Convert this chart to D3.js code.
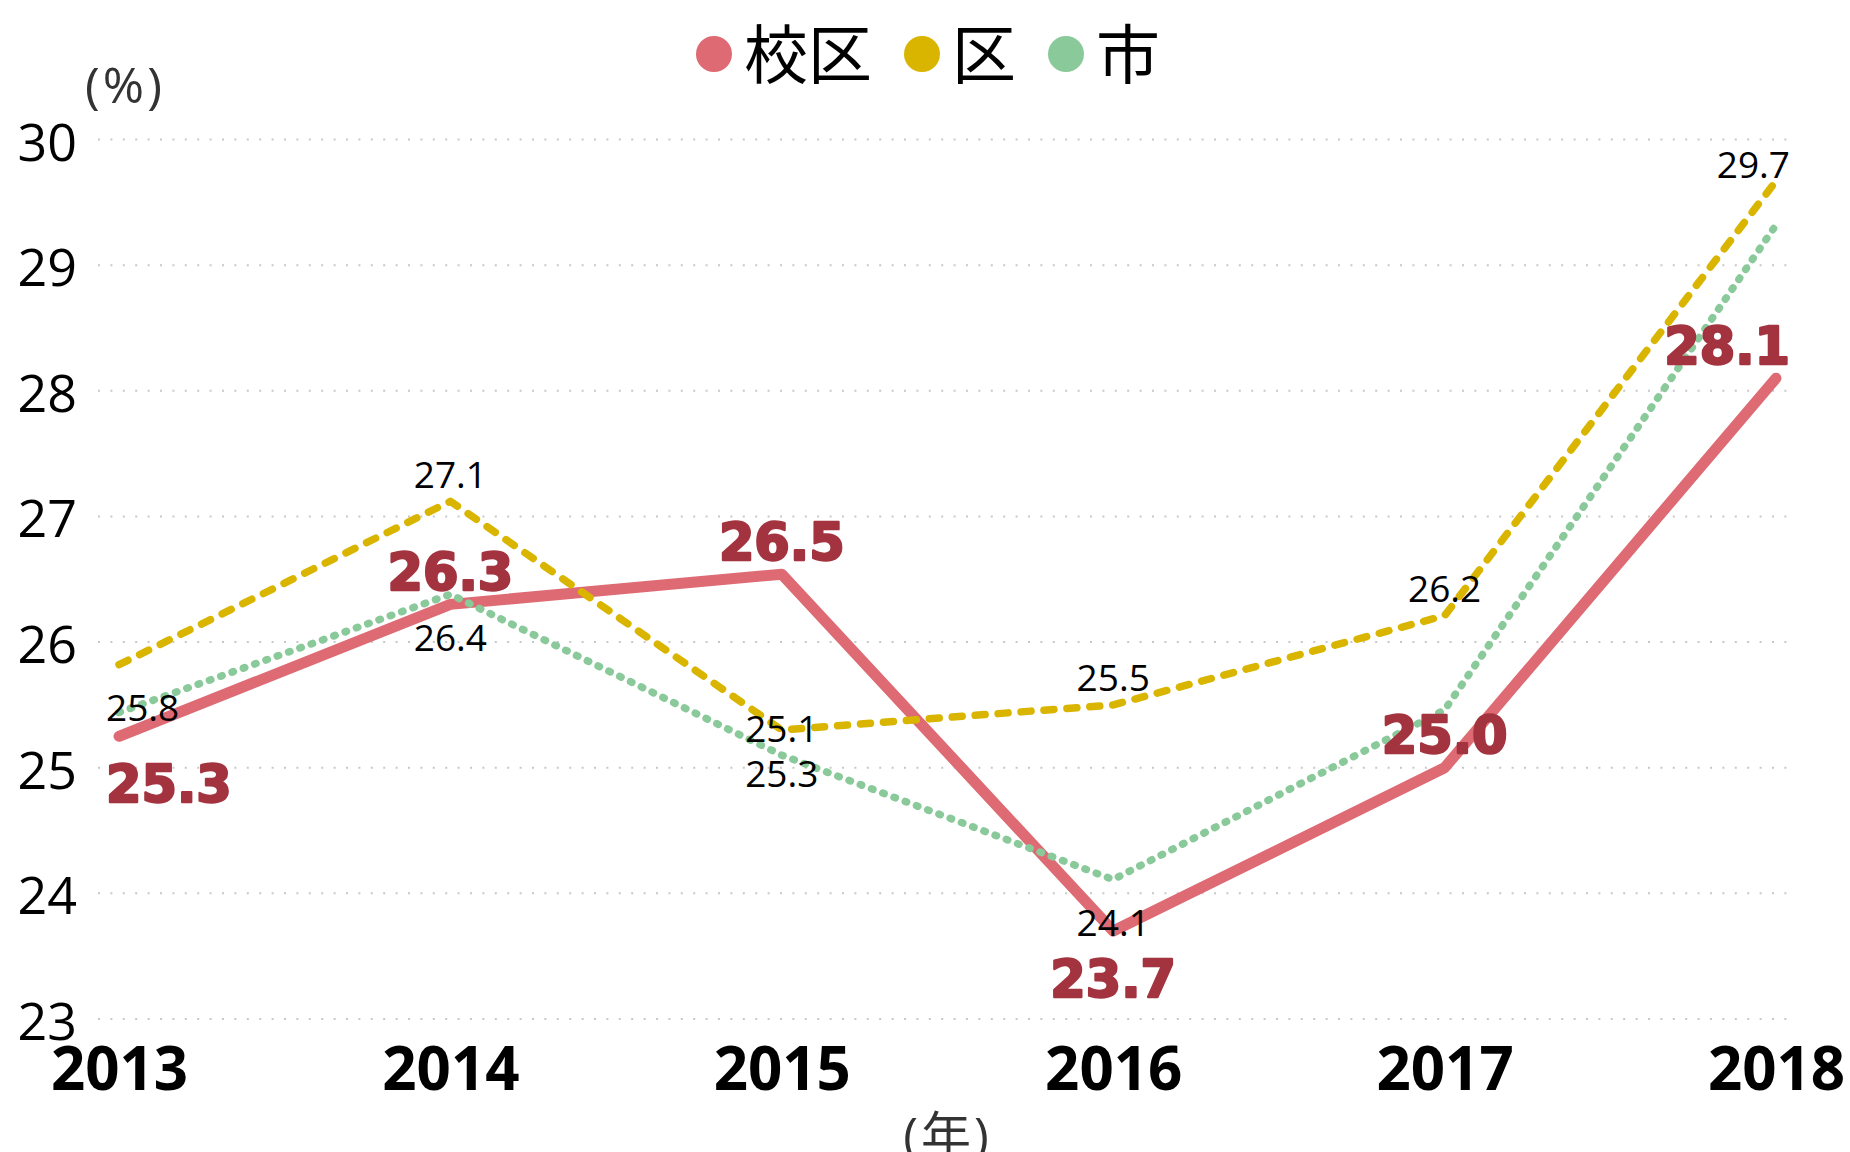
<!DOCTYPE html>
<html>
<head>
<meta charset="utf-8">
<script src="https://cdn.jsdelivr.net/npm/d3@7"></script>
<style>
  body { margin: 0; background: #fff; }
  svg { display: block; }
  .grid line { stroke: #c8c8c8; stroke-width: 2; stroke-dasharray: 2,10.4; }
  .y-axis text { font-family: "Open Sans", sans-serif; font-size: 52px; fill: #000; }
  .x-axis text { font-family: "Open Sans", sans-serif; font-size: 60px; font-weight: 700; fill: #000; }
  .axis-title { font-family: "Open Sans", "Noto Sans CJK JP", sans-serif; font-size: 50px; fill: #333; }
  .legend text { font-family: "Noto Sans CJK JP", sans-serif; font-size: 64px; fill: #000; }
  .lbl { font-family: "Open Sans", sans-serif; font-size: 37px; fill: #000; }
  .lbl-main { font-family: "DejaVu Sans", sans-serif; font-size: 51px; font-weight: 700; fill: #a3343f; stroke: #a3343f; stroke-width: 2.4; stroke-linejoin: round; }
</style>
</head>
<body>
<svg id="chart"></svg>
<script>
// data
const years = ['2013', '2014', '2015', '2016', '2017', '2018'];
const kouku = [25.25, 26.3, 26.54, 23.7, 25.0, 28.1];   // 校区
const ku = [25.82, 27.12, 25.3, 25.5, 26.21, 29.67];    // 区
const shi = [25.44, 26.38, 25.1, 24.11, 25.46, 29.32];  // 市
const yTicks = [23, 24, 25, 26, 27, 28, 29, 30];

// where each value label sits (null = hidden by overlap)
const koukuLabelSide = ['below', 'above', 'above', 'below', 'above', 'above'];
const kuLabelSide = ['below', 'above', 'below', 'above', 'above', 'above'];
const shiLabelSide = [null, 'below', 'above', 'below', null, null];

const series = [
  { name: '校区', values: kouku, sides: koukuLabelSide, color: '#de6a73', width: 11, dash: null, main: true },
  { name: '区', values: ku, sides: kuLabelSide, color: '#dab500', width: 7.5, dash: '10,13', main: false },
  { name: '市', values: shi, sides: shiLabelSide, color: '#89c99a', width: 7.5, dash: '1.5,10.5', main: false }
];

const W = 1850, H = 1152;
const margin = {top: 139.5, right: 74, bottom: 133, left: 119};

const svg = d3.select('#chart').attr('width', W).attr('height', H);

const xScale = d3.scalePoint().domain(years).range([margin.left, W - margin.right]);
const yScale = d3.scaleLinear().domain([23, 30]).range([H - margin.bottom, margin.top]);

// gridlines
svg.append('g').attr('class', 'grid')
  .selectAll('line')
  .data(yTicks)
  .join('line')
    .attr('x1', 98)
    .attr('x2', 1794)
    .attr('y1', d => yScale(d))
    .attr('y2', d => yScale(d));

// y axis
const yAxisG = svg.append('g')
  .attr('class', 'axis y-axis')
  .attr('transform', 'translate(77,0)')
  .call(d3.axisLeft(yScale).tickValues(yTicks).tickFormat(d3.format('d')).tickSize(0).tickPadding(0));
yAxisG.select('.domain').remove();
yAxisG.selectAll('text').attr('x', 0).attr('dy', null).attr('dominant-baseline', 'central');

// x axis
const xAxisG = svg.append('g')
  .attr('class', 'axis x-axis')
  .attr('transform', 'translate(0,1067)')
  .call(d3.axisBottom(xScale).tickSize(0).tickPadding(0));
xAxisG.select('.domain').remove();
xAxisG.selectAll('text').attr('y', 0).attr('dy', null).attr('dominant-baseline', 'central');

// axis titles
svg.append('text')
  .attr('class', 'axis-title')
  .attr('x', 125).attr('y', 84)
  .attr('text-anchor', 'middle')
  .attr('dominant-baseline', 'central')
  .style('letter-spacing', '3px')
  .text('(%)');

svg.append('text')
  .attr('class', 'axis-title')
  .attr('x', (margin.left + W - margin.right) / 2).attr('y', 1134)
  .attr('text-anchor', 'middle')
  .attr('dominant-baseline', 'central')
  .style('letter-spacing', '3px')
  .text('(年)');

// lines: 校区 first, then 区, then 市 on top
const line = d3.line()
  .x((d, i) => xScale(years[i]))
  .y(d => yScale(d));

svg.append('g')
  .selectAll('path')
  .data(series)
  .join('path')
    .attr('d', d => line(d.values))
    .attr('fill', 'none')
    .attr('stroke', d => d.color)
    .attr('stroke-width', d => d.width)
    .attr('stroke-linecap', 'round')
    .attr('stroke-linejoin', 'round')
    .attr('stroke-dasharray', d => d.dash);

// value labels
const fmt = d3.format('.1f');
const labelData = [];
series.forEach(s => {
  s.values.forEach((v, i) => {
    if (!s.sides[i]) return;
    labelData.push({ value: v, year: years[i], side: s.sides[i], main: s.main });
  });
});
// black ones under, red ones on top
labelData.sort((a, b) => a.main - b.main);

const plotLeft = 106, plotRight = 1790, plotTop = 138;
const labels = svg.append('g')
  .selectAll('text')
  .data(labelData)
  .join('text')
    .attr('class', d => d.main ? 'lbl-main' : 'lbl')
    .attr('text-anchor', 'middle')
    .attr('dominant-baseline', 'central')
    .attr('x', d => xScale(d.year))
    .attr('y', d => {
      const off = d.main ? (d.side === 'above' ? -32 : 48) : (d.side === 'above' ? -28 : 42);
      return yScale(d.value) + off;
    })
    .text(d => fmt(d.value));

// keep labels inside the plot area
labels.each(function() {
  const el = d3.select(this);
  const b = this.getBBox();
  let x = +el.attr('x');
  if (b.x < plotLeft) x += plotLeft - b.x;
  if (b.x + b.width > plotRight) x -= (b.x + b.width) - plotRight;
  el.attr('x', x);
  if (b.y < plotTop) el.attr('y', +el.attr('y') + (plotTop - b.y));
});

// legend
const legend = svg.append('g').attr('class', 'legend');
let cursor = 0;
series.forEach(s => {
  legend.append('circle')
    .attr('cx', cursor + 18)
    .attr('cy', 54)
    .attr('r', 18)
    .attr('fill', s.color);
  const t = legend.append('text')
    .attr('x', cursor + 48)
    .attr('y', 50)
    .attr('dominant-baseline', 'central')
    .text(s.name);
  cursor += 48 + t.node().getComputedTextLength() + 32;
});
const lw = legend.node().getBBox().width;
legend.attr('transform', `translate(${928 - lw / 2},0)`);
</script>
</body>
</html>
